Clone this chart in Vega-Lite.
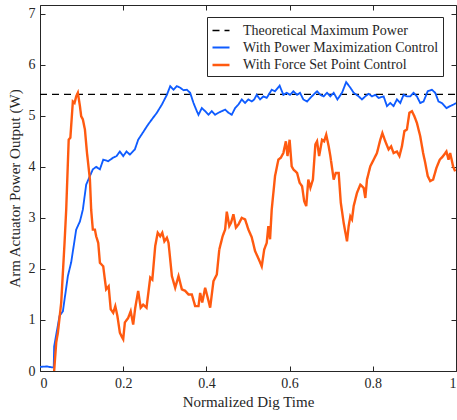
{
  "$schema": "https://vega.github.io/schema/vega-lite/v6.json",
  "width": 416,
  "height": 366,
  "autosize": {"type": "none"},
  "padding": {"left": 40, "top": 5, "right": 1, "bottom": 49},
  "background": "white",
  "config": {
    "view": {"stroke": null},
    "font": "Liberation Serif",
    "axis": {
      "labelFont": "Liberation Serif", "labelFontSize": 14, "labelColor": "#262626",
      "titleFont": "Liberation Serif", "titleFontSize": 15, "titleFontWeight": "normal", "titleColor": "#262626",
      "domainColor": "#262626", "tickColor": "#262626", "domainWidth": 1, "tickWidth": 1,
      "grid": false, "tickSize": -5, "labelPadding": 10
    },
    "legend": {
      "symbolType": "stroke", "symbolSize": 289, "symbolStrokeWidth": 2.2,
      "labelFont": "Liberation Serif", "labelFontSize": 14, "labelColor": "#262626",
      "labelOffset": 12, "strokeColor": "#262626", "fillColor": "white",
      "padding": 4, "rowPadding": 0, "labelLimit": 300
    }
  },
  "data": {"values": [
    {"t":0,"p":5.42,"s":"Theoretical Maximum Power"},
    {"t":1,"p":5.42,"s":"Theoretical Maximum Power"},
    {"t":0,"p":0.08,"s":"With Power Maximization Control"},
    {"t":0.017,"p":0.09,"s":"With Power Maximization Control"},
    {"t":0.029,"p":0.07,"s":"With Power Maximization Control"},
    {"t":0.033,"p":0.07,"s":"With Power Maximization Control"},
    {"t":0.034,"p":0.48,"s":"With Power Maximization Control"},
    {"t":0.047,"p":1.08,"s":"With Power Maximization Control"},
    {"t":0.055,"p":1.17,"s":"With Power Maximization Control"},
    {"t":0.067,"p":1.86,"s":"With Power Maximization Control"},
    {"t":0.075,"p":2.13,"s":"With Power Maximization Control"},
    {"t":0.087,"p":2.77,"s":"With Power Maximization Control"},
    {"t":0.096,"p":2.93,"s":"With Power Maximization Control"},
    {"t":0.103,"p":3.16,"s":"With Power Maximization Control"},
    {"t":0.111,"p":3.65,"s":"With Power Maximization Control"},
    {"t":0.12,"p":3.82,"s":"With Power Maximization Control"},
    {"t":0.127,"p":3.95,"s":"With Power Maximization Control"},
    {"t":0.135,"p":4.0,"s":"With Power Maximization Control"},
    {"t":0.144,"p":3.95,"s":"With Power Maximization Control"},
    {"t":0.152,"p":4.14,"s":"With Power Maximization Control"},
    {"t":0.164,"p":4.11,"s":"With Power Maximization Control"},
    {"t":0.176,"p":4.18,"s":"With Power Maximization Control"},
    {"t":0.184,"p":4.21,"s":"With Power Maximization Control"},
    {"t":0.192,"p":4.3,"s":"With Power Maximization Control"},
    {"t":0.2,"p":4.21,"s":"With Power Maximization Control"},
    {"t":0.208,"p":4.3,"s":"With Power Maximization Control"},
    {"t":0.216,"p":4.24,"s":"With Power Maximization Control"},
    {"t":0.228,"p":4.34,"s":"With Power Maximization Control"},
    {"t":0.236,"p":4.53,"s":"With Power Maximization Control"},
    {"t":0.244,"p":4.63,"s":"With Power Maximization Control"},
    {"t":0.252,"p":4.73,"s":"With Power Maximization Control"},
    {"t":0.26,"p":4.83,"s":"With Power Maximization Control"},
    {"t":0.269,"p":4.93,"s":"With Power Maximization Control"},
    {"t":0.281,"p":5.06,"s":"With Power Maximization Control"},
    {"t":0.293,"p":5.22,"s":"With Power Maximization Control"},
    {"t":0.305,"p":5.41,"s":"With Power Maximization Control"},
    {"t":0.313,"p":5.58,"s":"With Power Maximization Control"},
    {"t":0.321,"p":5.51,"s":"With Power Maximization Control"},
    {"t":0.329,"p":5.58,"s":"With Power Maximization Control"},
    {"t":0.337,"p":5.55,"s":"With Power Maximization Control"},
    {"t":0.345,"p":5.5,"s":"With Power Maximization Control"},
    {"t":0.353,"p":5.51,"s":"With Power Maximization Control"},
    {"t":0.361,"p":5.45,"s":"With Power Maximization Control"},
    {"t":0.369,"p":5.25,"s":"With Power Maximization Control"},
    {"t":0.377,"p":5.09,"s":"With Power Maximization Control"},
    {"t":0.381,"p":5.02,"s":"With Power Maximization Control"},
    {"t":0.389,"p":5.15,"s":"With Power Maximization Control"},
    {"t":0.397,"p":5.09,"s":"With Power Maximization Control"},
    {"t":0.405,"p":5.02,"s":"With Power Maximization Control"},
    {"t":0.413,"p":5.09,"s":"With Power Maximization Control"},
    {"t":0.421,"p":5.02,"s":"With Power Maximization Control"},
    {"t":0.429,"p":5.06,"s":"With Power Maximization Control"},
    {"t":0.437,"p":5.09,"s":"With Power Maximization Control"},
    {"t":0.445,"p":5.12,"s":"With Power Maximization Control"},
    {"t":0.453,"p":5.06,"s":"With Power Maximization Control"},
    {"t":0.461,"p":5.02,"s":"With Power Maximization Control"},
    {"t":0.469,"p":5.15,"s":"With Power Maximization Control"},
    {"t":0.477,"p":5.22,"s":"With Power Maximization Control"},
    {"t":0.485,"p":5.32,"s":"With Power Maximization Control"},
    {"t":0.493,"p":5.25,"s":"With Power Maximization Control"},
    {"t":0.501,"p":5.32,"s":"With Power Maximization Control"},
    {"t":0.509,"p":5.28,"s":"With Power Maximization Control"},
    {"t":0.515,"p":5.32,"s":"With Power Maximization Control"},
    {"t":0.521,"p":5.41,"s":"With Power Maximization Control"},
    {"t":0.529,"p":5.32,"s":"With Power Maximization Control"},
    {"t":0.537,"p":5.38,"s":"With Power Maximization Control"},
    {"t":0.545,"p":5.35,"s":"With Power Maximization Control"},
    {"t":0.557,"p":5.51,"s":"With Power Maximization Control"},
    {"t":0.565,"p":5.48,"s":"With Power Maximization Control"},
    {"t":0.576,"p":5.59,"s":"With Power Maximization Control"},
    {"t":0.585,"p":5.41,"s":"With Power Maximization Control"},
    {"t":0.593,"p":5.45,"s":"With Power Maximization Control"},
    {"t":0.601,"p":5.41,"s":"With Power Maximization Control"},
    {"t":0.609,"p":5.48,"s":"With Power Maximization Control"},
    {"t":0.618,"p":5.41,"s":"With Power Maximization Control"},
    {"t":0.625,"p":5.45,"s":"With Power Maximization Control"},
    {"t":0.633,"p":5.32,"s":"With Power Maximization Control"},
    {"t":0.642,"p":5.28,"s":"With Power Maximization Control"},
    {"t":0.65,"p":5.35,"s":"With Power Maximization Control"},
    {"t":0.657,"p":5.41,"s":"With Power Maximization Control"},
    {"t":0.666,"p":5.48,"s":"With Power Maximization Control"},
    {"t":0.674,"p":5.41,"s":"With Power Maximization Control"},
    {"t":0.682,"p":5.38,"s":"With Power Maximization Control"},
    {"t":0.69,"p":5.45,"s":"With Power Maximization Control"},
    {"t":0.698,"p":5.38,"s":"With Power Maximization Control"},
    {"t":0.706,"p":5.45,"s":"With Power Maximization Control"},
    {"t":0.715,"p":5.32,"s":"With Power Maximization Control"},
    {"t":0.726,"p":5.45,"s":"With Power Maximization Control"},
    {"t":0.736,"p":5.66,"s":"With Power Maximization Control"},
    {"t":0.746,"p":5.55,"s":"With Power Maximization Control"},
    {"t":0.754,"p":5.45,"s":"With Power Maximization Control"},
    {"t":0.766,"p":5.38,"s":"With Power Maximization Control"},
    {"t":0.774,"p":5.32,"s":"With Power Maximization Control"},
    {"t":0.782,"p":5.38,"s":"With Power Maximization Control"},
    {"t":0.79,"p":5.43,"s":"With Power Maximization Control"},
    {"t":0.798,"p":5.38,"s":"With Power Maximization Control"},
    {"t":0.806,"p":5.41,"s":"With Power Maximization Control"},
    {"t":0.814,"p":5.35,"s":"With Power Maximization Control"},
    {"t":0.826,"p":5.38,"s":"With Power Maximization Control"},
    {"t":0.834,"p":5.19,"s":"With Power Maximization Control"},
    {"t":0.842,"p":5.25,"s":"With Power Maximization Control"},
    {"t":0.85,"p":5.19,"s":"With Power Maximization Control"},
    {"t":0.858,"p":5.32,"s":"With Power Maximization Control"},
    {"t":0.866,"p":5.25,"s":"With Power Maximization Control"},
    {"t":0.874,"p":5.41,"s":"With Power Maximization Control"},
    {"t":0.882,"p":5.38,"s":"With Power Maximization Control"},
    {"t":0.89,"p":5.38,"s":"With Power Maximization Control"},
    {"t":0.898,"p":5.45,"s":"With Power Maximization Control"},
    {"t":0.906,"p":5.38,"s":"With Power Maximization Control"},
    {"t":0.914,"p":5.25,"s":"With Power Maximization Control"},
    {"t":0.922,"p":5.28,"s":"With Power Maximization Control"},
    {"t":0.932,"p":5.48,"s":"With Power Maximization Control"},
    {"t":0.942,"p":5.51,"s":"With Power Maximization Control"},
    {"t":0.95,"p":5.45,"s":"With Power Maximization Control"},
    {"t":0.958,"p":5.28,"s":"With Power Maximization Control"},
    {"t":0.966,"p":5.25,"s":"With Power Maximization Control"},
    {"t":0.977,"p":5.15,"s":"With Power Maximization Control"},
    {"t":0.986,"p":5.19,"s":"With Power Maximization Control"},
    {"t":0.994,"p":5.22,"s":"With Power Maximization Control"},
    {"t":1.0,"p":5.25,"s":"With Power Maximization Control"},
    {"t":0.034,"p":0,"s":"With Force Set Point Control"},
    {"t":0.039,"p":0.56,"s":"With Force Set Point Control"},
    {"t":0.043,"p":0.75,"s":"With Force Set Point Control"},
    {"t":0.051,"p":1.34,"s":"With Force Set Point Control"},
    {"t":0.059,"p":2.51,"s":"With Force Set Point Control"},
    {"t":0.063,"p":3.16,"s":"With Force Set Point Control"},
    {"t":0.069,"p":4.53,"s":"With Force Set Point Control"},
    {"t":0.073,"p":4.57,"s":"With Force Set Point Control"},
    {"t":0.079,"p":5.28,"s":"With Force Set Point Control"},
    {"t":0.083,"p":5.25,"s":"With Force Set Point Control"},
    {"t":0.087,"p":5.38,"s":"With Force Set Point Control"},
    {"t":0.091,"p":5.45,"s":"With Force Set Point Control"},
    {"t":0.096,"p":5.19,"s":"With Force Set Point Control"},
    {"t":0.099,"p":4.99,"s":"With Force Set Point Control"},
    {"t":0.103,"p":4.93,"s":"With Force Set Point Control"},
    {"t":0.108,"p":4.73,"s":"With Force Set Point Control"},
    {"t":0.113,"p":4.27,"s":"With Force Set Point Control"},
    {"t":0.12,"p":3.75,"s":"With Force Set Point Control"},
    {"t":0.123,"p":3.16,"s":"With Force Set Point Control"},
    {"t":0.127,"p":2.77,"s":"With Force Set Point Control"},
    {"t":0.132,"p":2.77,"s":"With Force Set Point Control"},
    {"t":0.135,"p":2.64,"s":"With Force Set Point Control"},
    {"t":0.14,"p":2.51,"s":"With Force Set Point Control"},
    {"t":0.144,"p":2.12,"s":"With Force Set Point Control"},
    {"t":0.152,"p":2.05,"s":"With Force Set Point Control"},
    {"t":0.156,"p":1.79,"s":"With Force Set Point Control"},
    {"t":0.159,"p":1.6,"s":"With Force Set Point Control"},
    {"t":0.165,"p":1.66,"s":"With Force Set Point Control"},
    {"t":0.17,"p":1.21,"s":"With Force Set Point Control"},
    {"t":0.176,"p":1.14,"s":"With Force Set Point Control"},
    {"t":0.181,"p":1.27,"s":"With Force Set Point Control"},
    {"t":0.186,"p":1.08,"s":"With Force Set Point Control"},
    {"t":0.192,"p":0.75,"s":"With Force Set Point Control"},
    {"t":0.196,"p":0.68,"s":"With Force Set Point Control"},
    {"t":0.2,"p":0.62,"s":"With Force Set Point Control"},
    {"t":0.204,"p":0.95,"s":"With Force Set Point Control"},
    {"t":0.212,"p":1.04,"s":"With Force Set Point Control"},
    {"t":0.218,"p":1.17,"s":"With Force Set Point Control"},
    {"t":0.224,"p":0.91,"s":"With Force Set Point Control"},
    {"t":0.229,"p":1.24,"s":"With Force Set Point Control"},
    {"t":0.236,"p":1.57,"s":"With Force Set Point Control"},
    {"t":0.242,"p":1.24,"s":"With Force Set Point Control"},
    {"t":0.248,"p":1.3,"s":"With Force Set Point Control"},
    {"t":0.256,"p":1.24,"s":"With Force Set Point Control"},
    {"t":0.26,"p":1.5,"s":"With Force Set Point Control"},
    {"t":0.265,"p":1.83,"s":"With Force Set Point Control"},
    {"t":0.27,"p":1.79,"s":"With Force Set Point Control"},
    {"t":0.277,"p":2.45,"s":"With Force Set Point Control"},
    {"t":0.283,"p":2.71,"s":"With Force Set Point Control"},
    {"t":0.289,"p":2.64,"s":"With Force Set Point Control"},
    {"t":0.294,"p":2.71,"s":"With Force Set Point Control"},
    {"t":0.299,"p":2.54,"s":"With Force Set Point Control"},
    {"t":0.305,"p":2.61,"s":"With Force Set Point Control"},
    {"t":0.309,"p":2.51,"s":"With Force Set Point Control"},
    {"t":0.317,"p":1.86,"s":"With Force Set Point Control"},
    {"t":0.325,"p":1.63,"s":"With Force Set Point Control"},
    {"t":0.333,"p":1.86,"s":"With Force Set Point Control"},
    {"t":0.341,"p":1.6,"s":"With Force Set Point Control"},
    {"t":0.349,"p":1.57,"s":"With Force Set Point Control"},
    {"t":0.357,"p":1.5,"s":"With Force Set Point Control"},
    {"t":0.365,"p":1.5,"s":"With Force Set Point Control"},
    {"t":0.373,"p":1.27,"s":"With Force Set Point Control"},
    {"t":0.381,"p":1.27,"s":"With Force Set Point Control"},
    {"t":0.385,"p":1.53,"s":"With Force Set Point Control"},
    {"t":0.39,"p":1.34,"s":"With Force Set Point Control"},
    {"t":0.397,"p":1.63,"s":"With Force Set Point Control"},
    {"t":0.403,"p":1.44,"s":"With Force Set Point Control"},
    {"t":0.409,"p":1.24,"s":"With Force Set Point Control"},
    {"t":0.417,"p":1.76,"s":"With Force Set Point Control"},
    {"t":0.425,"p":1.89,"s":"With Force Set Point Control"},
    {"t":0.431,"p":2.38,"s":"With Force Set Point Control"},
    {"t":0.439,"p":2.64,"s":"With Force Set Point Control"},
    {"t":0.445,"p":2.77,"s":"With Force Set Point Control"},
    {"t":0.449,"p":3.12,"s":"With Force Set Point Control"},
    {"t":0.455,"p":2.84,"s":"With Force Set Point Control"},
    {"t":0.459,"p":2.9,"s":"With Force Set Point Control"},
    {"t":0.465,"p":3.07,"s":"With Force Set Point Control"},
    {"t":0.471,"p":2.81,"s":"With Force Set Point Control"},
    {"t":0.477,"p":2.87,"s":"With Force Set Point Control"},
    {"t":0.485,"p":3.0,"s":"With Force Set Point Control"},
    {"t":0.493,"p":2.97,"s":"With Force Set Point Control"},
    {"t":0.501,"p":2.77,"s":"With Force Set Point Control"},
    {"t":0.509,"p":2.62,"s":"With Force Set Point Control"},
    {"t":0.517,"p":2.35,"s":"With Force Set Point Control"},
    {"t":0.528,"p":2.15,"s":"With Force Set Point Control"},
    {"t":0.533,"p":2.05,"s":"With Force Set Point Control"},
    {"t":0.539,"p":2.38,"s":"With Force Set Point Control"},
    {"t":0.545,"p":2.51,"s":"With Force Set Point Control"},
    {"t":0.549,"p":2.84,"s":"With Force Set Point Control"},
    {"t":0.553,"p":2.58,"s":"With Force Set Point Control"},
    {"t":0.557,"p":3.16,"s":"With Force Set Point Control"},
    {"t":0.565,"p":3.82,"s":"With Force Set Point Control"},
    {"t":0.573,"p":4.14,"s":"With Force Set Point Control"},
    {"t":0.579,"p":4.18,"s":"With Force Set Point Control"},
    {"t":0.585,"p":4.27,"s":"With Force Set Point Control"},
    {"t":0.591,"p":4.5,"s":"With Force Set Point Control"},
    {"t":0.595,"p":4.21,"s":"With Force Set Point Control"},
    {"t":0.6,"p":4.53,"s":"With Force Set Point Control"},
    {"t":0.605,"p":4.01,"s":"With Force Set Point Control"},
    {"t":0.609,"p":3.95,"s":"With Force Set Point Control"},
    {"t":0.618,"p":3.88,"s":"With Force Set Point Control"},
    {"t":0.624,"p":3.69,"s":"With Force Set Point Control"},
    {"t":0.63,"p":3.62,"s":"With Force Set Point Control"},
    {"t":0.635,"p":3.33,"s":"With Force Set Point Control"},
    {"t":0.64,"p":3.23,"s":"With Force Set Point Control"},
    {"t":0.645,"p":3.75,"s":"With Force Set Point Control"},
    {"t":0.65,"p":3.59,"s":"With Force Set Point Control"},
    {"t":0.656,"p":3.75,"s":"With Force Set Point Control"},
    {"t":0.662,"p":4.44,"s":"With Force Set Point Control"},
    {"t":0.666,"p":4.5,"s":"With Force Set Point Control"},
    {"t":0.671,"p":4.21,"s":"With Force Set Point Control"},
    {"t":0.678,"p":4.53,"s":"With Force Set Point Control"},
    {"t":0.683,"p":4.5,"s":"With Force Set Point Control"},
    {"t":0.688,"p":4.63,"s":"With Force Set Point Control"},
    {"t":0.694,"p":4.4,"s":"With Force Set Point Control"},
    {"t":0.698,"p":4.21,"s":"With Force Set Point Control"},
    {"t":0.706,"p":3.75,"s":"With Force Set Point Control"},
    {"t":0.711,"p":3.88,"s":"With Force Set Point Control"},
    {"t":0.718,"p":3.88,"s":"With Force Set Point Control"},
    {"t":0.723,"p":3.3,"s":"With Force Set Point Control"},
    {"t":0.73,"p":2.9,"s":"With Force Set Point Control"},
    {"t":0.738,"p":2.54,"s":"With Force Set Point Control"},
    {"t":0.742,"p":2.84,"s":"With Force Set Point Control"},
    {"t":0.746,"p":3.03,"s":"With Force Set Point Control"},
    {"t":0.75,"p":2.97,"s":"With Force Set Point Control"},
    {"t":0.754,"p":3.23,"s":"With Force Set Point Control"},
    {"t":0.762,"p":3.49,"s":"With Force Set Point Control"},
    {"t":0.77,"p":3.65,"s":"With Force Set Point Control"},
    {"t":0.778,"p":3.59,"s":"With Force Set Point Control"},
    {"t":0.782,"p":3.39,"s":"With Force Set Point Control"},
    {"t":0.786,"p":3.75,"s":"With Force Set Point Control"},
    {"t":0.794,"p":4.01,"s":"With Force Set Point Control"},
    {"t":0.802,"p":4.14,"s":"With Force Set Point Control"},
    {"t":0.81,"p":4.27,"s":"With Force Set Point Control"},
    {"t":0.818,"p":4.53,"s":"With Force Set Point Control"},
    {"t":0.823,"p":4.66,"s":"With Force Set Point Control"},
    {"t":0.83,"p":4.5,"s":"With Force Set Point Control"},
    {"t":0.838,"p":4.34,"s":"With Force Set Point Control"},
    {"t":0.844,"p":4.4,"s":"With Force Set Point Control"},
    {"t":0.85,"p":4.27,"s":"With Force Set Point Control"},
    {"t":0.858,"p":4.3,"s":"With Force Set Point Control"},
    {"t":0.864,"p":4.21,"s":"With Force Set Point Control"},
    {"t":0.87,"p":4.4,"s":"With Force Set Point Control"},
    {"t":0.876,"p":4.7,"s":"With Force Set Point Control"},
    {"t":0.882,"p":4.73,"s":"With Force Set Point Control"},
    {"t":0.888,"p":5.06,"s":"With Force Set Point Control"},
    {"t":0.894,"p":5.09,"s":"With Force Set Point Control"},
    {"t":0.9,"p":4.99,"s":"With Force Set Point Control"},
    {"t":0.906,"p":4.86,"s":"With Force Set Point Control"},
    {"t":0.914,"p":4.6,"s":"With Force Set Point Control"},
    {"t":0.921,"p":4.27,"s":"With Force Set Point Control"},
    {"t":0.926,"p":4.08,"s":"With Force Set Point Control"},
    {"t":0.932,"p":3.82,"s":"With Force Set Point Control"},
    {"t":0.938,"p":3.72,"s":"With Force Set Point Control"},
    {"t":0.945,"p":3.75,"s":"With Force Set Point Control"},
    {"t":0.953,"p":3.98,"s":"With Force Set Point Control"},
    {"t":0.961,"p":4.14,"s":"With Force Set Point Control"},
    {"t":0.969,"p":4.21,"s":"With Force Set Point Control"},
    {"t":0.977,"p":4.3,"s":"With Force Set Point Control"},
    {"t":0.982,"p":4.14,"s":"With Force Set Point Control"},
    {"t":0.986,"p":4.27,"s":"With Force Set Point Control"},
    {"t":0.993,"p":4.01,"s":"With Force Set Point Control"},
    {"t":0.998,"p":3.91,"s":"With Force Set Point Control"}
  ]},
  "layer": [
    {
      "mark": {"type": "line", "clip": true},
      "encoding": {
        "x": {"field": "t", "type": "quantitative",
              "scale": {"domain": [0, 1], "nice": false},
              "axis": {"title": "Normalized Dig Time", "values": [0, 0.2, 0.4, 0.6, 0.8, 1], "format": "~g", "titlePadding": 4}},
        "y": {"field": "p", "type": "quantitative",
              "scale": {"domain": [0, 7.17], "nice": false},
              "axis": {"title": "Arm Actuator Power Output (W)", "values": [0, 1, 2, 3, 4, 5, 6, 7], "titlePadding": 6}},
        "color": {"field": "s", "type": "nominal",
                  "scale": {"domain": ["Theoretical Maximum Power", "With Power Maximization Control", "With Force Set Point Control"],
                            "range": ["#000000", "#0f5cff", "#ff5a10"]},
                  "legend": {"title": null, "orient": "none", "legendX": 167, "legendY": 12}},
        "strokeDash": {"field": "s", "type": "nominal",
                       "scale": {"domain": ["Theoretical Maximum Power", "With Power Maximization Control", "With Force Set Point Control"],
                                 "range": [[7, 5], [1, 0], [1, 0]]},
                       "legend": {"title": null, "orient": "none", "legendX": 167, "legendY": 12}},
        "strokeWidth": {"field": "s", "type": "nominal",
                        "scale": {"domain": ["Theoretical Maximum Power", "With Power Maximization Control", "With Force Set Point Control"],
                                  "range": [1.3, 2.4, 2.4]},
                        "legend": null}
      }
    },
    {
      "mark": {"type": "point", "opacity": 0},
      "encoding": {
        "x": {"field": "t", "type": "quantitative",
              "axis": {"orient": "top", "title": null, "labels": false, "values": [0, 0.2, 0.4, 0.6, 0.8, 1]}},
        "y": {"field": "p", "type": "quantitative",
              "axis": {"orient": "right", "title": null, "labels": false, "values": [0, 1, 2, 3, 4, 5, 6, 7]}}
      }
    }
  ],
  "resolve": {"axis": {"x": "independent", "y": "independent"}}
}
